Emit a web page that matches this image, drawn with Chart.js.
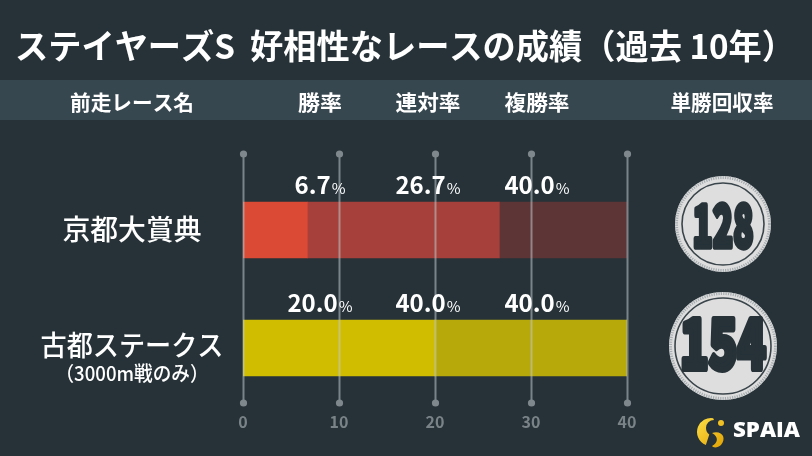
<!DOCTYPE html>
<html><head><meta charset="utf-8">
<script src="https://cdn.jsdelivr.net/npm/chart.js@4.4.1/dist/chart.umd.min.js"></script>
<style>html,body{margin:0;padding:0;background:#263238;}#wrap{width:812px;height:456px;}</style>
</head><body><div id="wrap"><canvas id="c" width="812" height="456"></canvas></div>
<script>
const titleText = 'ステイヤーズS  好相性なレースの成績（過去 10年）';
const columnHeads = ['前走レース名', '勝率', '連対率', '複勝率', '単勝回収率'];
const races = ['京都大賞典', '古都ステークス'];
const raceNotes = ['', '（3000m戦のみ）'];
const winRate = [6.7, 20.0];
const top2Rate = [26.7, 40.0];
const top3Rate = [40.0, 40.0];
const winReturn = [128, 154];
const xTicks = [0, 10, 20, 30, 40];

const JP = '"Noto Sans CJK JP", "Noto Sans", sans-serif';
const BG = '#263238';
const headCenters = [132, 320, 428, 537, 722];
const segColors = [['#db4a35', '#d0bd00'], ['#a5403a', '#b8a90b'], ['#5d3537', '#8f8415']];
const badgeStyle = [
  {r: 48, inner: 41, dy: -6, h: 43, w: 61, tb: 249},
  {r: 54, inner: 48, dy: -2, h: 51, w: 86, tb: 371}
];

function fitText(ctx, text, cx, cy, font, width, color) {
  ctx.save();
  ctx.font = font; ctx.fillStyle = color;
  ctx.textBaseline = 'middle'; ctx.textAlign = 'center';
  const w = ctx.measureText(text).width;
  const s = width ? width / w : 1;
  ctx.translate(cx, cy); ctx.scale(s, 1);
  ctx.fillText(text, 0, 0);
  ctx.restore();
}

const deco = {
  id: 'deco',
  beforeDraw(chart) {
    const ctx = chart.ctx;
    ctx.save();
    ctx.fillStyle = BG; ctx.fillRect(0, 0, 812, 456);
    fitText(ctx, titleText, 405, 46, 'bold 34px ' + JP, 780, '#ffffff');
    ctx.fillStyle = '#37474f'; ctx.fillRect(0, 80, 812, 40);
    const hw = [124, 44, 65, 65, 103];
    columnHeads.forEach((t, i) => fitText(ctx, t, headCenters[i], 102, 'bold 21px ' + JP, hw[i], '#ffffff'));
    ctx.restore();
  },
  afterDatasetsDraw(chart) {
    const ctx = chart.ctx;
    const xs = chart.scales.x, ys = chart.scales.y;
    ctx.save();
    // grid lines with dots
    const yTop = ys.top - 17, yBot = ys.bottom - 4;
    xTicks.forEach(v => {
      const x = Math.round(xs.getPixelForValue(v)) + 0.5;
      ctx.strokeStyle = 'rgba(190,200,205,0.55)'; ctx.lineWidth = 2;
      ctx.beginPath(); ctx.moveTo(x, yTop); ctx.lineTo(x, yBot); ctx.stroke();
      ctx.fillStyle = '#7f888d';
      [yTop, yBot].forEach(y => { ctx.beginPath(); ctx.arc(x, y, 3.6, 0, Math.PI * 2); ctx.fill(); });
    });
    // percent labels
    const rates = [winRate, top2Rate, top3Rate];
    races.forEach((r, i) => {
      const yc = ys.getPixelForValue(i);
      const base = yc - 36.5;
      rates.forEach((arr, k) => {
        const num = arr[i].toFixed(1);
        ctx.font = 'bold 24px ' + JP; const w1 = ctx.measureText(num).width;
        ctx.font = '15px ' + JP; const w2 = ctx.measureText('%').width;
        const x0 = headCenters[k + 1] - (w1 + w2 + 1) / 2;
        ctx.fillStyle = '#ffffff'; ctx.textBaseline = 'alphabetic'; ctx.textAlign = 'left';
        ctx.font = 'bold 24px ' + JP; ctx.fillText(num, x0, base);
        ctx.font = '15px ' + JP; ctx.fillText('%', x0 + w1 + 1, base);
      });
      // race labels
      if (raceNotes[i]) {
        fitText(ctx, r, 132, yc - 3, '500 28px ' + JP, 183, '#ffffff');
        fitText(ctx, raceNotes[i], 132, yc + 25, '500 20px ' + JP, 153, '#ffffff');
      } else {
        fitText(ctx, r, 132, yc - 1, '500 28px ' + JP, 139, '#ffffff');
      }
      // return badges
      const st = badgeStyle[i];
      const cx = 723, cy = yc + st.dy;
      ctx.beginPath(); ctx.arc(cx, cy, st.r, 0, Math.PI * 2); ctx.fillStyle = '#dedede'; ctx.fill();
      ctx.save(); ctx.setLineDash([1.2, 1.2]); ctx.lineWidth = 3; ctx.strokeStyle = '#a7adb0';
      ctx.beginPath(); ctx.arc(cx, cy, st.r - 1.5, 0, Math.PI * 2); ctx.stroke(); ctx.restore();
      ctx.beginPath(); ctx.arc(cx, cy, st.inner, 0, Math.PI * 2); ctx.lineWidth = 1.6; ctx.strokeStyle = '#3a454b'; ctx.stroke();
      const txt = String(winReturn[i]);
      const fs = st.h / 0.735;
      ctx.save();
      ctx.font = '900 ' + fs.toFixed(1) + 'px ' + JP;
      const tw = ctx.measureText(txt).width;
      ctx.translate(cx, st.tb - 2);
      ctx.scale(st.w / tw, 1);
      ctx.fillStyle = '#263238'; ctx.strokeStyle = '#263238'; ctx.lineJoin = 'round';
      ctx.lineWidth = fs * 0.09;
      ctx.textAlign = 'center'; ctx.textBaseline = 'alphabetic';
      ctx.fillText(txt, 0, 0);
      ctx.strokeText(txt, 0, 0);
      ctx.restore();
    });
    // logo
    const g = ctx.createLinearGradient(697, 416, 726, 447);
    g.addColorStop(0, '#ffe14a'); g.addColorStop(1, '#e0a000');
    ctx.fillStyle = g;
    ctx.beginPath();
    ctx.arc(711, 432, 14, Math.PI * 0.62, Math.PI * 1.55, false);
    ctx.arc(714, 428, 8, Math.PI * 1.5, Math.PI * 0.7, true);
    ctx.closePath(); ctx.fill();
    ctx.beginPath();
    ctx.moveTo(712, 433);
    ctx.bezierCurveTo(722, 430, 727, 438, 721, 445);
    ctx.bezierCurveTo(718, 448, 713, 448, 712, 446);
    ctx.bezierCurveTo(718, 443, 719, 437, 712, 433);
    ctx.fill();
    ctx.beginPath(); ctx.arc(721, 423, 3, 0, Math.PI * 2); ctx.fill();
    fitText(ctx, 'SPAIA', 766.5, 431, '800 21px "Open Sans", sans-serif', 67, '#ffffff');
    ctx.restore();
  }
};

new Chart(document.getElementById('c'), {
  type: 'bar',
  data: {
    labels: races,
    datasets: [
      {label: '勝率', data: winRate, backgroundColor: segColors[0]},
      {label: '連対率', data: top2Rate.map((v, i) => +(v - winRate[i]).toFixed(1)), backgroundColor: segColors[1]},
      {label: '複勝率', data: top3Rate.map((v, i) => +(v - top2Rate[i]).toFixed(1)), backgroundColor: segColors[2]}
    ]
  },
  options: {
    indexAxis: 'y',
    responsive: false,
    animation: false,
    devicePixelRatio: 1,
    layout: {padding: {left: 243, right: 185, top: 171, bottom: 0}},
    datasets: {bar: {barThickness: 56, borderWidth: 0}},
    plugins: {legend: {display: false}, tooltip: {enabled: false}, title: {display: false}},
    scales: {
      x: {
        type: 'linear', min: 0, max: 40, stacked: true, position: 'bottom',
        grid: {display: false, drawTicks: false}, border: {display: false},
        ticks: {stepSize: 10, color: '#7a8387', padding: 5, font: {family: JP, size: 16, weight: 'bold'}},
        afterFit(s) { s.height = 49; }
      },
      y: {stacked: true, display: false}
    }
  },
  plugins: [deco]
});
</script>
</body></html>
